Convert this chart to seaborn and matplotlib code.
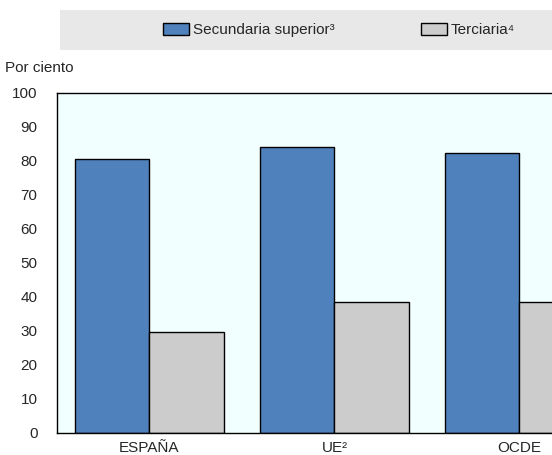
import matplotlib
matplotlib.use("Agg")
import matplotlib.pyplot as plt
import seaborn as sns
import pandas as pd
from matplotlib.patches import Rectangle

# data
regions = ["ESPAÑA", "UE²", "OCDE"]
secundaria = [80.5, 84.0, 82.4]
terciaria = [29.6, 38.4, 38.5]
series_names = ["Secundaria superior³", "Terciaria⁴"]

df = pd.DataFrame({
    "region": regions * 2,
    "nivel": [series_names[0]] * 3 + [series_names[1]] * 3,
    "valor": secundaria + terciaria,
})

sns.set_style("white")
plt.rcParams["font.family"] = ["Liberation Sans", "DejaVu Sans"]
fs = 11

fig = plt.figure(figsize=(5.52, 4.55), dpi=100)
ax = fig.add_axes([57 / 552, 22 / 455, 555 / 552, 340 / 455])
ax.set_facecolor("#F2FFFF")

sns.barplot(data=df, x="region", y="valor", hue="nivel", order=regions,
            hue_order=series_names, palette=["#4F81BD", "#CCCCCC"],
            saturation=1, width=0.81, edgecolor="black", linewidth=1,
            ax=ax, legend=False)

ax.set_xlim(-0.5, 2.5)
ax.set_ylim(0, 100)
ax.set_yticks(range(0, 101, 10))
ax.set_xlabel("")
ax.set_ylabel("")
for s in ax.spines.values():
    s.set_color("black")
    s.set_linewidth(1)

ax.tick_params(axis="y", direction="in", length=6, labelsize=fs, pad=14, color="black")
ax.tick_params(axis="x", which="major", length=0, labelsize=fs, pad=6)
ax.set_xticks([0.5, 1.5], minor=True)
ax.tick_params(axis="x", which="minor", direction="in", length=5, color="black")

fig.text(5 / 552, 1 - 68 / 455, "Por ciento", fontsize=fs, va="center", ha="left")

# legend band
fig.patches.append(Rectangle((60 / 552, 1 - 50 / 455), 492 / 552, 40 / 455,
                             transform=fig.transFigure, facecolor="#E8E8E8",
                             edgecolor="none", zorder=0))
handles = [Rectangle((0, 0), 1, 1, facecolor="#4F81BD", edgecolor="black"),
           Rectangle((0, 0), 1, 1, facecolor="#CCCCCC", edgecolor="black")]
fig.legend(handles, series_names, ncol=2, frameon=False, fontsize=fs,
           loc="center", bbox_to_anchor=(339 / 552, 1 - 30 / 455),
           handlelength=1.7, handleheight=0.9, handletextpad=0.2,
           columnspacing=5.7)

fig.savefig("out.png", dpi=100)
